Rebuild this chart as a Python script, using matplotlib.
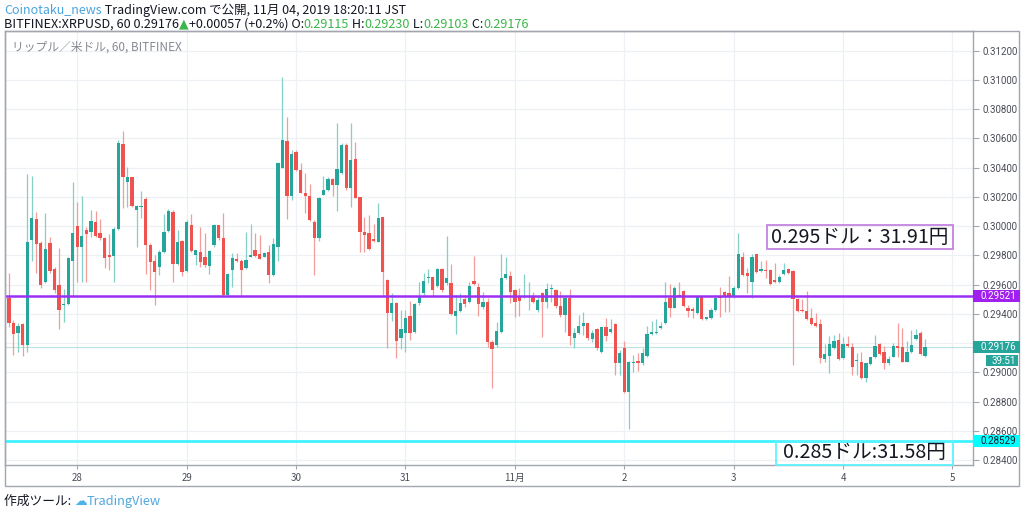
import matplotlib
matplotlib.use('Agg')
import matplotlib.pyplot as plt
from matplotlib.patches import Rectangle
import numpy as np

plt.rcParams['font.family'] = ['Noto Sans CJK JP', 'DejaVu Sans']

# XRPUSD 1h candles, Oct 27 09:00 -> Nov 4 18:00 (JST)
opens = [
    0.29506, 0.29339, 0.29271, 0.29328, 0.29187, 0.29905, 0.30046, 0.29882, 0.29615, 0.29884,
    0.29704, 0.29597, 0.29460, 0.29467, 0.29761, 0.30003, 0.29859, 0.29973, 0.29960, 0.30028,
    0.29953, 0.29920, 0.29800, 0.29795, 0.29978, 0.30559, 0.30304, 0.30333, 0.30110, 0.30128,
    0.30188, 0.29868, 0.29761, 0.29718, 0.29825, 0.29969, 0.30099, 0.29741, 0.29898, 0.29695,
    0.30010, 0.29802, 0.29823, 0.29789, 0.29729, 0.29871, 0.30005, 0.29916, 0.29526, 0.29700,
    0.29775, 0.29763, 0.29711, 0.29791, 0.29836, 0.29807, 0.29791, 0.29820, 0.29665, 0.29859,
    0.30400, 0.30582, 0.30206, 0.30504, 0.30384, 0.30229, 0.30206, 0.30026, 0.29916, 0.30215,
    0.30247, 0.30320, 0.30281,
    0.30365, 0.30555, 0.30258, 0.30457, 0.30197, 0.29962, 0.29950, 0.29912, 0.29893, 0.30060,
    0.29631, 0.29408, 0.29476, 0.29232, 0.29266, 0.29385, 0.29278, 0.29472, 0.29540, 0.29643,
    0.29649, 0.29590, 0.29704, 0.29608, 0.29608, 0.29387, 0.29421, 0.29499, 0.29479, 0.29627,
    0.29586, 0.29449, 0.29479,
    0.29210, 0.29187, 0.29278, 0.29643, 0.29659, 0.29563, 0.29522, 0.29517, 0.29517, 0.29522,
    0.29426, 0.29540, 0.29483, 0.29568, 0.29563, 0.29456, 0.29392, 0.29506, 0.29237, 0.29267,
    0.29317, 0.29335, 0.29226, 0.29294, 0.29137, 0.29308, 0.29273, 0.29328,
    0.29062, 0.29164, 0.28863,
    0.29066, 0.29078, 0.29062, 0.29112, 0.29262, 0.29267, 0.29301, 0.29335, 0.29506, 0.29442,
    0.29529, 0.29559, 0.29442, 0.29431, 0.29404, 0.29513, 0.29363, 0.29369, 0.29426, 0.29522,
    0.29552, 0.29545, 0.29513, 0.29575, 0.29791, 0.29682, 0.29616, 0.29807, 0.29695, 0.29700,
    0.29700, 0.29632, 0.29620, 0.29673,
    0.29705, 0.29693, 0.29502, 0.29427, 0.29422, 0.29370, 0.29340, 0.29331, 0.29089, 0.29114,
    0.29164, 0.29221, 0.29096, 0.29194, 0.29171, 0.29078, 0.29069, 0.28959, 0.29057, 0.29103,
    0.29194, 0.29142, 0.29062, 0.29107, 0.29180, 0.29176, 0.29073, 0.29137, 0.29226, 0.29272,
    0.29115,
]
highs = [
    0.29681, 0.29360, 0.29335, 0.29340, 0.30354, 0.30343, 0.30094, 0.29900, 0.30092, 0.29925,
    0.29722, 0.29848, 0.29567, 0.29791, 0.30299, 0.30162, 0.30206, 0.29996, 0.30110, 0.30106,
    0.30046, 0.29925, 0.29946, 0.29996, 0.30589, 0.30653, 0.30402, 0.30338, 0.30145, 0.30242,
    0.30201, 0.29882, 0.29802, 0.29836, 0.30080, 0.30117, 0.30110, 0.29973, 0.29905, 0.30042,
    0.30080, 0.29836, 0.29996, 0.29950, 0.29836, 0.30012, 0.30007, 0.30088, 0.29677, 0.29814,
    0.29814, 0.29775, 0.29957, 0.30012, 0.29955, 0.29939, 0.29825, 0.29871, 0.29916, 0.30440,
    0.31022, 0.30744, 0.30520, 0.30520, 0.30434, 0.30361, 0.30288, 0.30042, 0.30201, 0.30343,
    0.30338, 0.30327, 0.30707,
    0.30566, 0.30566, 0.30703, 0.30573, 0.30201, 0.30064, 0.30076, 0.30012, 0.30156, 0.30064,
    0.29640, 0.29540, 0.29483, 0.29426, 0.29426, 0.29488, 0.29472, 0.29620, 0.29681, 0.29704,
    0.29654, 0.29711, 0.29711, 0.29934, 0.29738, 0.29529, 0.29540, 0.29529, 0.29620, 0.29796,
    0.29608, 0.29551, 0.29510,
    0.29221, 0.29346, 0.29807, 0.29791, 0.29693, 0.29568, 0.29574, 0.29670, 0.29615, 0.29547,
    0.29517, 0.29552, 0.29613, 0.29604, 0.29568, 0.29558, 0.29513, 0.29568, 0.29301, 0.29392,
    0.29415, 0.29340, 0.29289, 0.29301, 0.29312, 0.29369, 0.29362, 0.29335,
    0.29153, 0.29217, 0.29078,
    0.29119, 0.29130, 0.29164, 0.29317, 0.29351, 0.29363, 0.29347, 0.29616, 0.29604, 0.29591,
    0.29620, 0.29563, 0.29461, 0.29445, 0.29522, 0.29518, 0.29381, 0.29438, 0.29529, 0.29586,
    0.29556, 0.29659, 0.29591, 0.29951, 0.29825, 0.29711, 0.29807, 0.29809, 0.29764, 0.29768,
    0.29705, 0.29746, 0.29666, 0.29746,
    0.29712, 0.29700, 0.29506, 0.29500, 0.29559, 0.29438, 0.29408, 0.29365, 0.29194, 0.29249,
    0.29256, 0.29267, 0.29240, 0.29249, 0.29203, 0.29135, 0.29142, 0.29066, 0.29107, 0.29256,
    0.29203, 0.29180, 0.29112, 0.29203, 0.29340, 0.29301, 0.29217, 0.29290, 0.29294, 0.29285,
    0.29230,
]
lows = [
    0.29312, 0.29118, 0.29141, 0.29114, 0.29141, 0.29761, 0.29681, 0.29574, 0.29610, 0.29677,
    0.29540, 0.29294, 0.29346, 0.29460, 0.29517, 0.29620, 0.29615, 0.29620, 0.29927, 0.29927,
    0.29905, 0.29711, 0.29700, 0.29620, 0.29973, 0.30121, 0.30133, 0.30133, 0.29859, 0.30055,
    0.29672, 0.29563, 0.29460, 0.29665, 0.29814, 0.29960, 0.29620, 0.29734, 0.29658, 0.29688,
    0.29825, 0.29734, 0.29722, 0.29722, 0.29672, 0.29859, 0.29905, 0.29522, 0.29522, 0.29586,
    0.29757, 0.29529, 0.29704, 0.29789, 0.29791, 0.29775, 0.29789, 0.29613, 0.29658, 0.29761,
    0.30395, 0.30046, 0.30178, 0.30380, 0.30224, 0.30092, 0.30037, 0.29665, 0.29898, 0.30210,
    0.30242, 0.30206, 0.30106,
    0.30360, 0.30250, 0.30133, 0.30190, 0.29825, 0.29825, 0.29836, 0.29893, 0.29889, 0.29529,
    0.29164, 0.29353, 0.29096, 0.29157, 0.29141, 0.29221, 0.29271, 0.29460, 0.29522, 0.29608,
    0.29517, 0.29586, 0.29551, 0.29597, 0.29392, 0.29260, 0.29415, 0.29444, 0.29472, 0.29597,
    0.29387, 0.29433, 0.29171,
    0.28895, 0.29175, 0.29271, 0.29638, 0.29472, 0.29381, 0.29385, 0.29510, 0.29426, 0.29472,
    0.29415, 0.29244, 0.29438, 0.29483, 0.29442, 0.29376, 0.29278, 0.29187, 0.29164, 0.29260,
    0.29255, 0.29221, 0.29210, 0.29153, 0.29130, 0.29214, 0.29267, 0.28982,
    0.28982, 0.28858, 0.28610,
    0.29005, 0.29011, 0.29050, 0.29107, 0.29255, 0.29262, 0.29296, 0.29331, 0.29381, 0.29438,
    0.29513, 0.29445, 0.29381, 0.29369, 0.29399, 0.29358, 0.29358, 0.29365, 0.29422, 0.29376,
    0.29415, 0.29415, 0.29506, 0.29570, 0.29659, 0.29545, 0.29511, 0.29677, 0.29689, 0.29643,
    0.29598, 0.29614, 0.29614, 0.29666,
    0.29673, 0.29050, 0.29415, 0.29415, 0.29358, 0.29324, 0.29308, 0.29062, 0.29073, 0.28998,
    0.29160, 0.29085, 0.29089, 0.29171, 0.28982, 0.28982, 0.28955, 0.28932, 0.29050, 0.29096,
    0.29119, 0.29021, 0.29050, 0.29103, 0.29103, 0.29069, 0.29069, 0.29130, 0.29221, 0.29121,
    0.29103,
]
closes = [
    0.29339, 0.29260, 0.29319, 0.29187, 0.29889, 0.30055, 0.29877, 0.29597, 0.29843, 0.29695,
    0.29563, 0.29426, 0.29469, 0.29780, 0.29953, 0.29857, 0.29932, 0.29946, 0.30035, 0.29934,
    0.29920, 0.29780, 0.29790, 0.29978, 0.30571, 0.30338, 0.30338, 0.30137, 0.30137, 0.30140,
    0.29868, 0.29757, 0.29688, 0.29825, 0.29957, 0.30106, 0.29741, 0.29893, 0.29688, 0.30026,
    0.29832, 0.29834, 0.29757, 0.29732, 0.29827, 0.30007, 0.29916, 0.29526, 0.29670, 0.29784,
    0.29763, 0.29700, 0.29768, 0.29800, 0.29798, 0.29777, 0.29818, 0.29665, 0.29875, 0.30429,
    0.30587, 0.30206, 0.30491, 0.30384, 0.30229, 0.30206, 0.30042, 0.29916, 0.30194, 0.30245,
    0.30320, 0.30281, 0.30388,
    0.30555, 0.30258, 0.30452, 0.30194, 0.29962, 0.29939, 0.29841, 0.29898, 0.30058, 0.29688,
    0.29408, 0.29472, 0.29216, 0.29296, 0.29369, 0.29271, 0.29467, 0.29522, 0.29624, 0.29649,
    0.29563, 0.29706, 0.29563, 0.29643, 0.29396, 0.29421, 0.29476, 0.29467, 0.29592, 0.29604,
    0.29467, 0.29479, 0.29209,
    0.29157, 0.29283, 0.29647, 0.29672, 0.29552, 0.29483, 0.29488, 0.29522, 0.29522, 0.29483,
    0.29495, 0.29483, 0.29570, 0.29574, 0.29456, 0.29392, 0.29506, 0.29251, 0.29267, 0.29317,
    0.29335, 0.29237, 0.29271, 0.29164, 0.29308, 0.29251, 0.29296, 0.29066,
    0.29130, 0.28863, 0.29073,
    0.29073, 0.29062, 0.29130, 0.29262, 0.29278, 0.29278, 0.29319, 0.29483, 0.29442, 0.29579,
    0.29518, 0.29454, 0.29422, 0.29420, 0.29518, 0.29363, 0.29376, 0.29426, 0.29506, 0.29506,
    0.29513, 0.29513, 0.29575, 0.29807, 0.29666, 0.29659, 0.29787, 0.29684, 0.29705, 0.29693,
    0.29604, 0.29620, 0.29654, 0.29700,
    0.29677, 0.29502, 0.29420, 0.29420, 0.29365, 0.29331, 0.29317, 0.29096, 0.29126, 0.29194,
    0.29217, 0.29089, 0.29194, 0.29180, 0.29034, 0.29085, 0.28959, 0.29062, 0.29103, 0.29180,
    0.29126, 0.29062, 0.29091, 0.29180, 0.29164, 0.29073, 0.29137, 0.29187, 0.29256, 0.29126,
    0.29176,
]

day_ticks = [15, 39, 63, 87, 111, 135, 159, 183, 207]   # candle index of each midnight
day_labels = ['28', '29', '30', '31', '11月', '2', '3', '4', '5']
price_ticks = [0.284, 0.286, 0.288, 0.290, 0.292, 0.294, 0.296, 0.298,
               0.300, 0.302, 0.304, 0.306, 0.308, 0.310, 0.312]
hidden_ticks = [0.292]   # covered by the last price tag

resist_price = 0.29521
support_price = 0.28529
last_price = 0.29176
note_top = '0.295ドル：31.91円'
note_bottom = '0.285ドル:31.58円'

UP, DOWN = '#26a69a', '#ef5350'
BORDER = '#a3a6af'
TXT = '#131722'

W, H = 1024, 514
fig = plt.figure(figsize=(W / 100, H / 100), dpi=100)
fig.patch.set_facecolor('white')


def fx(px):
    return px / W


def fy(py):
    return 1 - py / H


ax = fig.add_axes([fx(5), fy(465), fx(973) - fx(5), fy(31) - fy(465)])
ax.set_xlim(-0.86, 211.5)
ax.set_ylim(0.28366, 0.31335)

o = np.array(opens)
hi = np.array(highs)
lo = np.array(lows)
c = np.array(closes)
idx = np.arange(len(o))
up = c >= o
body_col = np.where(up, UP, DOWN)
wick_col = np.where(up, '#85cfc6', '#f49c9a')

ax.vlines(idx, lo, hi, colors=wick_col, lw=0.9, zorder=2)
ax.bar(idx, np.maximum(np.abs(c - o), 0.00007), bottom=np.minimum(o, c),
       width=0.72, color=body_col, linewidth=0, zorder=3)

ax.axhline(last_price, color=UP, lw=0.8, alpha=0.3, zorder=1)
ax.axhline(resist_price, color='#9b30f5', lw=1.8, zorder=4)
ax.axhline(support_price, color='#3ff2ff', lw=2.0, zorder=4)

ax.set_xticks(day_ticks)
ax.set_xticklabels(day_labels)
ax.set_yticks(price_ticks)
ax.set_yticklabels(['' if p in hidden_ticks else '%.5f' % p for p in price_ticks])
ax.yaxis.tick_right()
ax.tick_params(axis='y', direction='out', length=4, width=0.8, color=BORDER,
               labelsize=7, labelcolor='#4a4d57', pad=3)
ax.tick_params(axis='x', direction='out', length=3, width=0.8, color=BORDER,
               labelsize=7, labelcolor='#4a4d57', pad=3)
for lab in ax.get_yticklabels():
    lab.set_family(['Roboto', 'DejaVu Sans'])
ax.grid(True, color='#eef0f5', lw=0.9, zorder=0)
ax.set_axisbelow(True)
for side in ['left', 'top', 'bottom', 'right']:
    ax.spines[side].set_color(BORDER)
    ax.spines[side].set_linewidth(1.0)

# outer frame of the chart widget
frame = Rectangle((fx(5), fy(486)), fx(1019) - fx(5), fy(31) - fy(486),
                  transform=fig.transFigure, fill=False, ec=BORDER, lw=1.0)
fig.patches.append(frame)


def price_y(p):
    return fig.transFigure.inverted().transform(ax.transData.transform((0, p)))[1]


def price_box(p, text, bg, fg, x0=973, x1=1020, h=12, dy=0):
    yc = price_y(p) - dy / H
    fig.patches.append(Rectangle((fx(x0), yc - h / 2 / H), (x1 - x0) / W, h / H,
                                 transform=fig.transFigure, fc=bg, ec='none', zorder=5))
    fig.text(fx((x0 + x1) / 2 + 2), yc, text, color=fg, fontsize=7, ha='center',
             va='center', family=['Roboto', 'DejaVu Sans'], zorder=6)


price_box(resist_price, '%.5f' % resist_price, '#a020f0', 'white')
price_box(last_price, '%.5f' % last_price, UP, 'white')
price_box(last_price, '39:51', UP, 'white', x0=986, x1=1018, h=11, dy=14)
price_box(support_price, '%.5f' % support_price, '#00ffff', TXT)

# hand drawn notes
fig.patches.append(Rectangle((fx(767), fy(249)), (953 - 767) / W, 24 / H,
                             transform=fig.transFigure, fill=False, ec='#c483e0', lw=1.3, zorder=5))
fig.text(fx(860), fy(237.5), note_top, fontsize=14.2, ha='center', va='center', color=TXT)
fig.patches.append(Rectangle((fx(776), fy(465)), (953 - 776) / W, 24 / H,
                             transform=fig.transFigure, fill=False, ec='#5ff3ff', lw=1.3, zorder=5))
fig.text(fx(864), fy(453), note_bottom, fontsize=14.2, ha='center', va='center', color=TXT)

fig.text(fx(12), fy(47), 'リップル／米ドル, 60, BITFINEX', fontsize=8.5, color='#878a93', va='center')

renderer = fig.canvas.get_renderer()


def text_run(x_px, y_px, pieces, size):
    x = fx(x_px)
    for s, col, fam in pieces:
        t = fig.text(x, fy(y_px), s, color=col, fontsize=size, va='center', ha='left',
                     family=fam)
        bb = t.get_window_extent(renderer)
        x = fig.transFigure.inverted().transform((bb.x1, bb.y0))[0]


JP = ['Noto Sans CJK JP', 'DejaVu Sans']
GREEN = '#3cb54a'
text_run(4, 10, [('Coinotaku_news', '#4aa3df', JP),
                 (' TradingView.com で公開, 11月 04, 2019 18:20:11 JST', TXT, JP)], 9)
text_run(4, 24, [('BITFINEX:XRPUSD, 60 0.29176', TXT, JP),
                 ('▲', GREEN, ['DejaVu Sans']),
                 ('+0.00057 (+0.2%) O:', TXT, JP), ('0.29115', GREEN, JP),
                 (' H:', TXT, JP), ('0.29230', GREEN, JP),
                 (' L:', TXT, JP), ('0.29103', GREEN, JP),
                 (' C:', TXT, JP), ('0.29176', GREEN, JP)], 9.1)

text_run(4, 501, [('作成ツール: ', TXT, JP), ('☁', '#4fb3e8', ['DejaVu Sans']),
                  ('TradingView', '#4fa8dc', JP)], 9.2)

fig.savefig('out.png', dpi=100, facecolor='white')
